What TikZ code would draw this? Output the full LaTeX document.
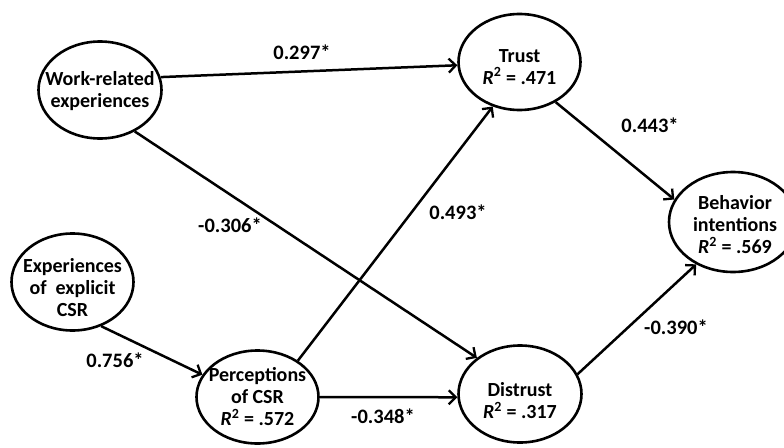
\documentclass[tikz,border=0pt]{standalone}
\usepackage{fontspec}
\setmainfont{Carlito}
\usetikzlibrary{shapes.geometric,arrows.meta}
\tikzset{
  latent/.style={draw, ellipse, line width=2.6pt, inner sep=0pt},
  ltext/.style={align=center, inner sep=0pt,
    font=\fontsize{20}{22}\selectfont\bfseries},
  path/.style={line width=2.5pt, -{Straight Barb[length=7pt,width=14pt,line width=2.3pt]}},
  coef/.style={font=\fontsize{20.5}{22}\selectfont\bfseries, inner sep=0pt}
}
\newcommand{\Rsq}[1]{\textit{R}\textsuperscript{2} = #1}
\begin{document}
\begin{tikzpicture}[x=1pt,y=-1pt]
\useasboundingbox (0,0) rectangle (784,447);
% ellipses
\node[latent, minimum width=123pt, minimum height=97pt] (wre) at (100,90) {};
\node[latent, minimum width=122pt, minimum height=97pt] (eec) at (72.5,282) {};
\node[latent, minimum width=122pt, minimum height=93pt] (pcsr) at (257.5,397) {};
\node[latent, minimum width=122pt, minimum height=96pt] (trust) at (519.5,62) {};
\node[latent, minimum width=123pt, minimum height=97pt] (distrust) at (520,394) {};
\node[latent, minimum width=128pt, minimum height=100pt] (bi) at (733,222) {};
% texts
\node[ltext] (wre-t) at (100,91) {Work-related\\experiences};
\node[ltext] (eec-t) at (72.5,288) {Experiences\\of~ explicit\\CSR};
\node[ltext] (pcsr-t) at (257.5,397) {Perceptions\\of CSR\\\Rsq{.572}};
\node[ltext] (trust-t) at (519.5,67) {Trust\\\Rsq{.471}};
\node[ltext] (distrust-t) at (520,401) {Distrust\\\Rsq{.317}};
\node[ltext] (bi-t) at (735,225) {Behavior\\intentions\\\Rsq{.569}};
% paths
\draw[path] (wre.12) -- (trust.183);
\draw[path] (wre.310) -- (distrust.140);
\draw[path] (trust.312) -- (bi.159);
\draw[path] (pcsr.42) -- (trust.239);
\draw[path] (pcsr.0) -- (distrust.183);
\draw[path] (eec.303) -- (pcsr.158);
\draw[path] (distrust.19) -- (bi.229);
% coefficients
\node[coef] (c1) at (302,52) {0.297*};
\node[coef] (c2) at (650,125) {0.443*};
\node[coef] (c3) at (230,225) {-0.306*};
\node[coef] (c4) at (458,212) {0.493*};
\node[coef] (c5) at (115,360) {0.756*};
\node[coef] (c6) at (676,327) {-0.390*};
\node[coef] (c7) at (383,416) {-0.348*};
\end{tikzpicture}
\end{document}
